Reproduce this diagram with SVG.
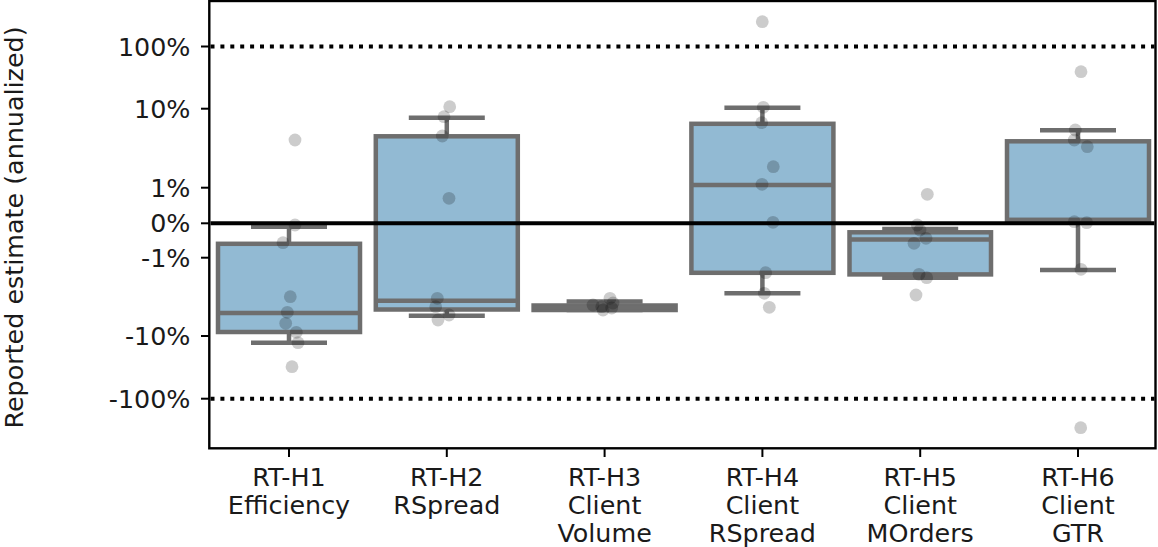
<svg xmlns="http://www.w3.org/2000/svg" width="1158" height="547" viewBox="0 0 1158 547">
<style>
text{font-family:"DejaVu Sans","Liberation Sans",sans-serif;font-size:25.4px;fill:#1a1a1a}
.yl{text-anchor:end}
.xl{text-anchor:middle}
.box{fill:#92bad3;stroke:#6e6e6e;stroke-width:4.5}
.wl{stroke:#6e6e6e;stroke-width:4.5;fill:none}
.dot{fill:#000;fill-opacity:0.2}
.tick{stroke:#000;stroke-width:2}
.ref{stroke:#000;stroke-width:4;stroke-dasharray:4 5.9;fill:none}
</style>
<rect x="0" y="0" width="1158" height="547" fill="#fff"/>
<g id="axes">
<rect x="209.3" y="1" width="946.2" height="447.3" fill="none" stroke="#000" stroke-width="2.4"/>
<line class="tick" x1="201" y1="46.5" x2="209" y2="46.5"/>
<line class="tick" x1="201" y1="108.7" x2="209" y2="108.7"/>
<line class="tick" x1="201" y1="187.7" x2="209" y2="187.7"/>
<line class="tick" x1="201" y1="223.3" x2="209" y2="223.3"/>
<line class="tick" x1="201" y1="257.7" x2="209" y2="257.7"/>
<line class="tick" x1="201" y1="336" x2="209" y2="336"/>
<line class="tick" x1="201" y1="398.7" x2="209" y2="398.7"/>
<text class="yl" x="190.5" y="55.6">100%</text>
<text class="yl" x="190.5" y="117.8">10%</text>
<text class="yl" x="190.5" y="196.8">1%</text>
<text class="yl" x="190.5" y="232.4">0%</text>
<text class="yl" x="190.5" y="266.8">-1%</text>
<text class="yl" x="190.5" y="345.1">-10%</text>
<text class="yl" x="190.5" y="407.8">-100%</text>
<line class="tick" x1="289" y1="448" x2="289" y2="457"/>
<line class="tick" x1="446.8" y1="448" x2="446.8" y2="457"/>
<line class="tick" x1="604.6" y1="448" x2="604.6" y2="457"/>
<line class="tick" x1="762.4" y1="448" x2="762.4" y2="457"/>
<line class="tick" x1="920.2" y1="448" x2="920.2" y2="457"/>
<line class="tick" x1="1078" y1="448" x2="1078" y2="457"/>
<text class="xl" x="289" y="485.5">RT-H1</text><text class="xl" x="289" y="513.7">Efficiency</text>
<text class="xl" x="446.8" y="485.5">RT-H2</text><text class="xl" x="446.8" y="513.7">RSpread</text>
<text class="xl" x="604.6" y="485.5">RT-H3</text><text class="xl" x="604.6" y="513.7">Client</text><text class="xl" x="604.6" y="541.9">Volume</text>
<text class="xl" x="762.4" y="485.5">RT-H4</text><text class="xl" x="762.4" y="513.7">Client</text><text class="xl" x="762.4" y="541.9">RSpread</text>
<text class="xl" x="920.2" y="485.5">RT-H5</text><text class="xl" x="920.2" y="513.7">Client</text><text class="xl" x="920.2" y="541.9">MOrders</text>
<text class="xl" x="1078" y="485.5">RT-H6</text><text class="xl" x="1078" y="513.7">Client</text><text class="xl" x="1078" y="541.9">GTR</text>
<text class="xl" transform="translate(23.2,227.5) rotate(-90)" x="0" y="0">Reported estimate (annualized)</text>
</g>
<g id="box-h1">
<line class="wl" x1="289" y1="226.7" x2="289" y2="243.8"/>
<line class="wl" x1="289" y1="332" x2="289" y2="342.7"/>
<line class="wl" x1="251" y1="226.7" x2="327" y2="226.7"/>
<line class="wl" x1="251" y1="342.7" x2="327" y2="342.7"/>
<rect class="box" x="218" y="243.8" width="142" height="88.2"/>
<line class="wl" x1="218" y1="313" x2="360" y2="313"/>
</g>
<g id="box-h2">
<line class="wl" x1="446.8" y1="117.7" x2="446.8" y2="136.3"/>
<line class="wl" x1="446.8" y1="309.5" x2="446.8" y2="315.7"/>
<line class="wl" x1="408.8" y1="117.7" x2="484.8" y2="117.7"/>
<line class="wl" x1="408.8" y1="315.7" x2="484.8" y2="315.7"/>
<rect class="box" x="375.8" y="136.3" width="142" height="173.2"/>
<line class="wl" x1="375.8" y1="300.7" x2="517.8" y2="300.7"/>
</g>
<g id="box-h3">
<line class="wl" x1="604.6" y1="301.5" x2="604.6" y2="305.5"/>
<line class="wl" x1="566.6" y1="301.5" x2="642.6" y2="301.5"/>
<line class="wl" x1="566.6" y1="310" x2="642.6" y2="310"/>
<rect class="box" x="533.6" y="305.5" width="142" height="4.5"/>
<line class="wl" x1="533.6" y1="307.5" x2="675.6" y2="307.5"/>
</g>
<g id="box-h4">
<line class="wl" x1="762.4" y1="107.7" x2="762.4" y2="123.8"/>
<line class="wl" x1="762.4" y1="272.8" x2="762.4" y2="293.3"/>
<line class="wl" x1="724.4" y1="107.7" x2="800.4" y2="107.7"/>
<line class="wl" x1="724.4" y1="293.3" x2="800.4" y2="293.3"/>
<rect class="box" x="691.4" y="123.8" width="142" height="149"/>
<line class="wl" x1="691.4" y1="185" x2="833.4" y2="185"/>
</g>
<g id="box-h5">
<line class="wl" x1="920.2" y1="229" x2="920.2" y2="232.3"/>
<line class="wl" x1="920.2" y1="274.4" x2="920.2" y2="277.7"/>
<line class="wl" x1="882.2" y1="229" x2="958.2" y2="229"/>
<line class="wl" x1="882.2" y1="277.7" x2="958.2" y2="277.7"/>
<rect class="box" x="849.5" y="232.3" width="141.5" height="42.1"/>
<line class="wl" x1="849.5" y1="239.5" x2="991" y2="239.5"/>
</g>
<g id="box-h6">
<line class="wl" x1="1078" y1="130.3" x2="1078" y2="141.3"/>
<line class="wl" x1="1078" y1="220" x2="1078" y2="270"/>
<line class="wl" x1="1040" y1="130.3" x2="1116" y2="130.3"/>
<line class="wl" x1="1040" y1="270" x2="1116" y2="270"/>
<rect class="box" x="1007" y="141.3" width="142" height="78.7"/>
<line class="wl" x1="1007" y1="220" x2="1149" y2="220"/>
</g>
<g id="reference-lines">
<line class="ref" x1="210.5" y1="46.5" x2="1154.5" y2="46.5"/>
<line class="ref" x1="210.5" y1="398.7" x2="1154.5" y2="398.7"/>
<line x1="210.5" y1="223.3" x2="1154.5" y2="223.3" stroke="#000" stroke-width="4"/>
</g>
<g id="points">
<circle class="dot" cx="295" cy="140" r="6.4"/><circle class="dot" cx="295" cy="225" r="6.4"/><circle class="dot" cx="283" cy="242.7" r="6.4"/><circle class="dot" cx="290.3" cy="296.7" r="6.4"/><circle class="dot" cx="287.3" cy="312.3" r="6.4"/><circle class="dot" cx="285.7" cy="323.3" r="6.4"/><circle class="dot" cx="296.3" cy="332.3" r="6.4"/><circle class="dot" cx="298" cy="342.7" r="6.4"/><circle class="dot" cx="292" cy="366.7" r="6.4"/>
<circle class="dot" cx="449.7" cy="106.7" r="6.4"/><circle class="dot" cx="444" cy="116.7" r="6.4"/><circle class="dot" cx="442.3" cy="136" r="6.4"/><circle class="dot" cx="449" cy="198.3" r="6.4"/><circle class="dot" cx="437.3" cy="298.3" r="6.4"/><circle class="dot" cx="435.7" cy="306.7" r="6.4"/><circle class="dot" cx="449" cy="315" r="6.4"/><circle class="dot" cx="438" cy="320" r="6.4"/>
<circle class="dot" cx="610" cy="298.3" r="6.4"/><circle class="dot" cx="593" cy="305" r="6.4"/><circle class="dot" cx="601.7" cy="306.7" r="6.4"/><circle class="dot" cx="613" cy="303" r="6.4"/><circle class="dot" cx="603" cy="310" r="6.4"/><circle class="dot" cx="611.7" cy="308" r="6.4"/>
<circle class="dot" cx="762.3" cy="21.7" r="6.4"/><circle class="dot" cx="763.3" cy="107.3" r="6.4"/><circle class="dot" cx="761.7" cy="122.7" r="6.4"/><circle class="dot" cx="773.3" cy="166.7" r="6.4"/><circle class="dot" cx="762" cy="184.3" r="6.4"/><circle class="dot" cx="773" cy="222.3" r="6.4"/><circle class="dot" cx="765.7" cy="272.7" r="6.4"/><circle class="dot" cx="764.3" cy="293.3" r="6.4"/><circle class="dot" cx="769.3" cy="307.3" r="6.4"/>
<circle class="dot" cx="927.3" cy="194.3" r="6.4"/><circle class="dot" cx="917.3" cy="225" r="6.4"/><circle class="dot" cx="920" cy="230" r="6.4"/><circle class="dot" cx="926" cy="238.3" r="6.4"/><circle class="dot" cx="914" cy="243.3" r="6.4"/><circle class="dot" cx="919" cy="274.3" r="6.4"/><circle class="dot" cx="926.7" cy="277.7" r="6.4"/><circle class="dot" cx="916" cy="295" r="6.4"/>
<circle class="dot" cx="1081" cy="71.7" r="6.4"/><circle class="dot" cx="1075.3" cy="130" r="6.4"/><circle class="dot" cx="1074.3" cy="140" r="6.4"/><circle class="dot" cx="1087.3" cy="146.7" r="6.4"/><circle class="dot" cx="1074.3" cy="221.7" r="6.4"/><circle class="dot" cx="1086.7" cy="222.7" r="6.4"/><circle class="dot" cx="1081" cy="269.3" r="6.4"/><circle class="dot" cx="1080.7" cy="427.7" r="6.4"/>
</g>
</svg>
